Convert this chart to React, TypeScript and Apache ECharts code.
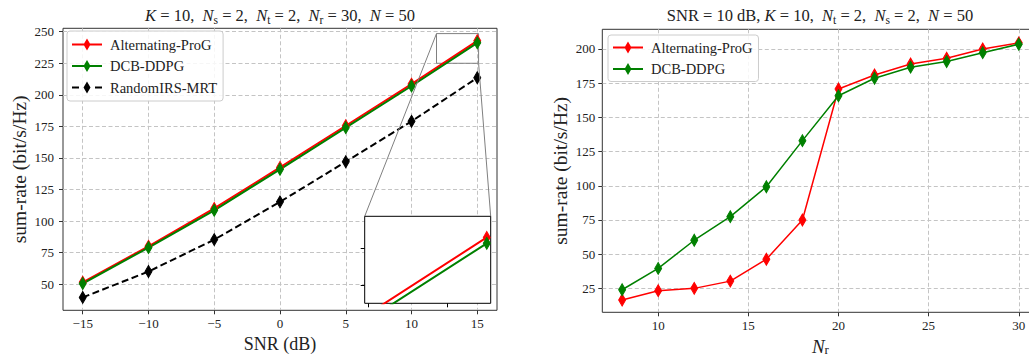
import React, { useEffect, useRef } from 'react';
import * as echarts from 'echarts';

// ---- data ----
const snrValues = [-15, -10, -5, 0, 5, 10, 15];
const altProgSnr = [51.5, 80, 110, 142.5, 175.5, 208.5, 242.8];
const dcbDdpgSnr = [50.5, 79, 108.5, 141, 174, 207, 241.2];
const randomIrsSnr = [39.5, 60, 85.3, 115.2, 147, 179, 213.5];

const nrValues = [8, 10, 12, 14, 16, 18, 20, 22, 24, 26, 28, 30];
const altProgNr = [16.5, 23.3, 25, 30.3, 46.3, 75, 170.8, 181, 189, 193.2, 200, 204.5];
const dcbDdpgNr = [24, 39.6, 60.2, 77.4, 99.3, 133, 165.8, 178.6, 186.7, 190.8, 197.3, 203.5];

// ---- tick labels ----
const snrTicks = [-15, -10, -5, 0, 5, 10, 15];
const leftRateTicks = [50, 75, 100, 125, 150, 175, 200, 225, 250];
const nrTicks = [10, 15, 20, 25, 30];
const rightRateTicks = [25, 50, 75, 100, 125, 150, 175, 200];
const insetSnrTicks = [12, 14];
const insetRateTicks = [230, 240];

// ---- axis ranges ----
const leftX = [-16.5, 16.5];
const leftY = [29.3, 252.7];
const rightX = [6.9, 31.1];
const rightY = [7.5, 214.4];
const insetX = [11.9, 15.1];
const insetY = [225, 248.5];

const FONT = 'Liberation Serif, serif';
const TEXT = '#222';
const RED = '#ff0000';
const GREEN = '#008000';
const BLACK = '#000000';

const pts = (xs: number[], ys: number[]) => xs.map((x, i) => [x, ys[i]]);

const solidIcon = 'path://M0,5h30v2h-30z M15,0L18.5,6L15,12L11.5,6z';
const dashedIcon = 'path://M0,5h7v2h-7z M23,5h7v2h-7z M15,0L18.5,6L15,12L11.5,6z';

const richTitle = (size: number) => ({
  fontFamily: FONT,
  fontSize: size,
  color: TEXT,
  fontWeight: 'normal',
  lineHeight: 22,
  rich: {
    i: { fontFamily: FONT, fontSize: size, fontStyle: 'italic', color: TEXT, lineHeight: 22 },
    sub: { fontFamily: FONT, fontSize: size * 0.7, color: TEXT, lineHeight: 12, verticalAlign: 'bottom' },
  },
});

const minus = (v: number) => String(v).replace('-', '\u2212');

function mainXAxis(gridIndex: number, range: number[], ticks: number[], step: number, name: string, nameRich = false) {
  return {
    type: 'value',
    gridIndex,
    min: range[0],
    max: range[1],
    minInterval: step,
    maxInterval: step,
    axisLine: { show: false, onZero: false },
    axisTick: { show: true, inside: false, length: 4, customValues: ticks, lineStyle: { color: '#333', width: 1 } },
    axisLabel: { show: true, customValues: ticks, formatter: (v: number) => minus(v), color: TEXT, fontFamily: FONT, fontSize: 13, margin: 7 },
    splitLine: { show: true, lineStyle: { color: '#c4c4c4', width: 1, type: [4, 2.5] } },
    name,
    nameLocation: 'middle',
    nameGap: nameRich ? 21 : 24,
    nameTextStyle: nameRich
      ? { fontFamily: FONT, fontSize: 19, color: TEXT, lineHeight: 18, rich: { i: { fontFamily: FONT, fontSize: 19, fontStyle: 'italic', color: TEXT, lineHeight: 18 }, sub: { fontFamily: FONT, fontSize: 13, color: TEXT, lineHeight: 10, verticalAlign: 'bottom' } } }
      : { fontFamily: FONT, fontSize: 18, color: TEXT },
  };
}

function mainYAxis(gridIndex: number, range: number[], ticks: number[], margin: number, gap: number) {
  return {
    type: 'value',
    gridIndex,
    min: range[0],
    max: range[1],
    minInterval: 25,
    maxInterval: 25,
    axisLine: { show: false, onZero: false },
    axisTick: { show: true, inside: false, length: 4, customValues: ticks, lineStyle: { color: '#333', width: 1 } },
    axisLabel: { show: true, customValues: ticks, color: TEXT, fontFamily: FONT, fontSize: 13, margin },
    splitLine: { show: true, lineStyle: { color: '#c4c4c4', width: 1, type: [4, 2.5] } },
    name: 'sum-rate (bit/s/Hz)',
    nameLocation: 'middle',
    nameGap: gap,
    nameTextStyle: { fontFamily: FONT, fontSize: 19.5, color: TEXT },
  };
}

function lineSeries(name: string, data: number[][], color: string, xi: number, yi: number, width: number, size: number[], dashed = false, z = 2) {
  return {
    type: 'line',
    name,
    xAxisIndex: xi,
    yAxisIndex: yi,
    data,
    color,
    symbol: 'diamond',
    symbolSize: size,
    showSymbol: true,
    clip: true,
    z,
    lineStyle: { color, width, type: dashed ? [7, 3.5] : 'solid' },
    itemStyle: { color, borderColor: color, borderWidth: 1 },
    emphasis: { disabled: true },
  };
}

export default function App() {
  const ref = useRef<HTMLDivElement>(null);

  useEffect(() => {
    if (!ref.current) return;
    const chart = echarts.init(ref.current, undefined, { renderer: 'svg' });

    const legendCommon = {
      orient: 'vertical',
      itemWidth: 30,
      itemHeight: 12,
      itemGap: 6.5,
      backgroundColor: 'rgba(255,255,255,0.85)',
      borderColor: '#cccccc',
      borderWidth: 1,
      borderRadius: 3,
      itemStyle: { borderWidth: 0 },
      textStyle: { fontFamily: FONT, fontSize: 14.5, color: TEXT, padding: [0, 0, 0, 3] },
      selectedMode: false,
      z: 8,
    };

    chart.setOption({
      animation: false,
      backgroundColor: '#ffffff',
      title: [
        {
          text: '{i|K} = 10,  {i|N}{sub|s} = 2,  {i|N}{sub|t} = 2,  {i|N}{sub|r} = 30,  {i|N} = 50',
          left: 280,
          top: 4,
          padding: 0,
          textAlign: 'center',
          textStyle: richTitle(16.5),
        },
        {
          text: 'SNR = 10 dB, {i|K} = 10,  {i|N}{sub|t} = 2,  {i|N}{sub|s} = 2,  {i|N} = 50',
          left: 820,
          top: 4,
          padding: 0,
          textAlign: 'center',
          textStyle: richTitle(16.5),
        },
      ],
      legend: [
        {
          ...legendCommon,
          left: 67,
          top: 31,
          padding: [6, 6, 6, 5],
          data: [
            { name: 'Alternating-ProG', icon: solidIcon },
            { name: 'DCB-DDPG', icon: solidIcon },
            { name: 'RandomIRS-MRT', icon: dashedIcon },
          ],
        },
        {
          ...legendCommon,
          left: 608,
          top: 35,
          padding: [5, 6, 5, 5],
          data: [
            { name: 'Alternating-ProG', icon: solidIcon },
            { name: 'DCB-DDPG', icon: solidIcon },
          ],
        },
      ],
      grid: [
        { left: 63, top: 28.3, width: 434, height: 282, show: true, borderColor: '#333', borderWidth: 1, backgroundColor: 'transparent', containLabel: false, outerBoundsMode: 'none' },
        { left: 602.3, top: 29.3, width: 436.3, height: 283, show: true, borderColor: '#333', borderWidth: 1, backgroundColor: 'transparent', containLabel: false, outerBoundsMode: 'none' },
        { left: 364.7, top: 216.3, width: 126, height: 87, show: true, borderColor: '#000', borderWidth: 1, backgroundColor: '#ffffff', containLabel: false, outerBoundsMode: 'none', z: 5 },
      ],
      xAxis: [
        mainXAxis(0, leftX, snrTicks, 5, 'SNR (dB)'),
        mainXAxis(1, rightX, nrTicks, 5, '{i|N}{sub|r}', true),
        {
          type: 'value',
          gridIndex: 2,
          min: insetX[0],
          max: insetX[1],
          minInterval: 2,
          maxInterval: 2,
          z: 6,
          axisLine: { show: false, onZero: false },
          axisTick: { show: true, inside: false, length: 4, customValues: insetSnrTicks, lineStyle: { color: '#000' } },
          axisLabel: { show: false },
          splitLine: { show: false },
        },
      ],
      yAxis: [
        mainYAxis(0, leftY, leftRateTicks, 9, 34),
        mainYAxis(1, rightY, rightRateTicks, 7, 32),
        {
          type: 'value',
          gridIndex: 2,
          min: insetY[0],
          max: insetY[1],
          minInterval: 10,
          maxInterval: 10,
          z: 6,
          axisLine: { show: false, onZero: false },
          axisTick: { show: true, inside: false, length: 4, customValues: insetRateTicks, lineStyle: { color: '#000' } },
          axisLabel: { show: false },
          splitLine: { show: false },
        },
      ],
      series: [
        lineSeries('Alternating-ProG', pts(snrValues, altProgSnr), RED, 0, 0, 2, [7, 12]),
        lineSeries('DCB-DDPG', pts(snrValues, dcbDdpgSnr), GREEN, 0, 0, 2, [7, 12]),
        {
          ...lineSeries('RandomIRS-MRT', pts(snrValues, randomIrsSnr), BLACK, 0, 0, 2, [7, 12], true),
          markArea: {
            silent: true,
            itemStyle: { color: 'rgba(0,0,0,0)', borderColor: '#808080', borderWidth: 1 },
            data: [[{ coord: [insetX[0], insetY[1]] }, { coord: [insetX[1], insetY[0]] }]],
          },
        },
        lineSeries('Alternating-ProG', pts(nrValues, altProgNr), RED, 1, 1, 1.5, [7, 12]),
        lineSeries('DCB-DDPG', pts(nrValues, dcbDdpgNr), GREEN, 1, 1, 1.5, [7, 12]),
        lineSeries('Alternating-ProG', pts(snrValues, altProgSnr), RED, 2, 2, 2, [7, 12], false, 7),
        lineSeries('DCB-DDPG', pts(snrValues, dcbDdpgSnr), GREEN, 2, 2, 2, [7, 12], false, 7),
      ],
    });

    // connector lines from the zoom rectangle to the inset
    const r1 = chart.convertToPixel({ gridIndex: 0 }, [insetX[0], insetY[1]]) as number[];
    const r2 = chart.convertToPixel({ gridIndex: 0 }, [insetX[1], insetY[0]]) as number[];
    const i1 = chart.convertToPixel({ gridIndex: 2 }, [insetX[0], insetY[1]]) as number[];
    const i2 = chart.convertToPixel({ gridIndex: 2 }, [insetX[1], insetY[1]]) as number[];
    chart.setOption({
      graphic: [
        { type: 'line', silent: true, z: 3, shape: { x1: r1[0], y1: r1[1], x2: i1[0], y2: i1[1] }, style: { stroke: '#808080', lineWidth: 1 } },
        { type: 'line', silent: true, z: 3, shape: { x1: r2[0], y1: r2[1], x2: i2[0], y2: i2[1] }, style: { stroke: '#808080', lineWidth: 1 } },
      ],
    });

    return () => chart.dispose();
  }, []);

  return <div ref={ref} style={{ position: 'fixed', left: 0, top: 0, width: 1029, height: 356 }} />;
}
